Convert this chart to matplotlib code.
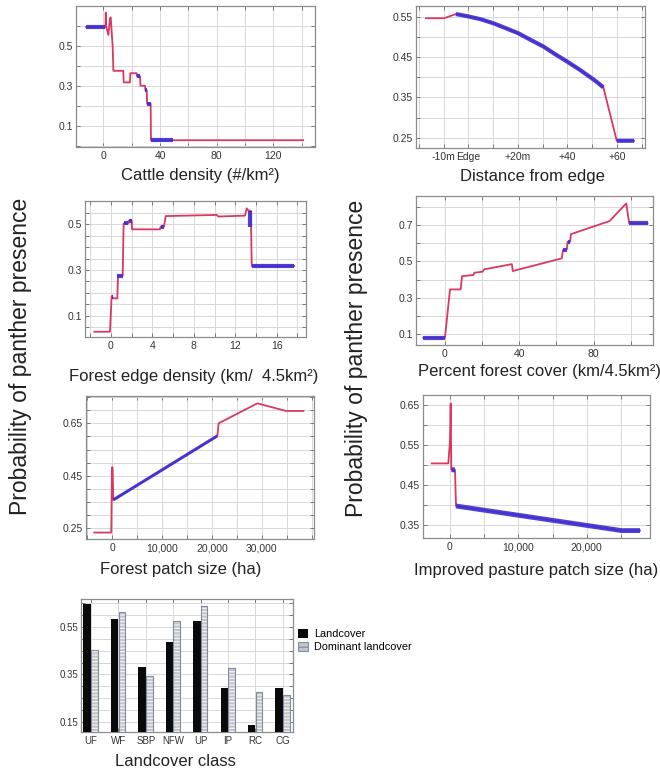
import numpy as np
import matplotlib
matplotlib.use('Agg')
import matplotlib.pyplot as plt
from matplotlib.ticker import FixedLocator, MultipleLocator, FixedFormatter, FormatStrFormatter, StrMethodFormatter
from matplotlib.patches import Patch

plt.rcParams['font.family'] = ['Liberation Sans', 'DejaVu Sans']
plt.rcParams['hatch.linewidth'] = 0.9

RED = '#dc3760'
BLUE = '#3a2ed6'
GRID = '#d8d8d8'
FRAME = '#8c8c8c'
nan = np.nan

# Cattle density response
cattle_x = [-12.2, 1.5, 1.7, 2.0, 3.5, 4.8, 5.2, 5.6, 6.6, 7.1, 14.1, 14.4, 18.8, 19.1, 23.5, 23.8,
            25.9, 26.2, 29.4, 29.7, 30.6, 30.9, 33.4, 33.6, 141.0]
cattle_y = [0.594, 0.594, 0.667, 0.600, 0.555, 0.640, 0.643, 0.600, 0.493, 0.375, 0.375, 0.317, 0.317,
            0.363, 0.363, 0.347, 0.347, 0.300, 0.300, 0.277, 0.277, 0.210, 0.210, 0.027, 0.027]
cattle_band_x = [-12.2, 1.5, nan, 24.0, 25.9, nan, 29.7, 30.6, nan, 30.9, 33.4, nan, 33.6, 49.4]
cattle_band_y = [0.594, 0.594, nan, 0.347, 0.347, nan, 0.277, 0.277, nan, 0.207, 0.207, nan, 0.027, 0.027]

# Distance from edge response
dist_x = [-17.1, -9.8, -5.0, 0, 5, 10.1, 15, 20.2, 25, 30.3, 35, 40, 45, 49.8, 52, 54.5, 59.9, 66.9]
dist_y = [0.5475, 0.5475, 0.558, 0.552, 0.545, 0.535, 0.523, 0.510, 0.494, 0.477, 0.458, 0.439,
          0.419, 0.398, 0.388, 0.375, 0.242, 0.242]
dist_band_x = [-5.0, 0, 5, 10.1, 15, 20.2, 25, 30.3, 35, 40, 45, 49.8, 52, 54.5, nan, 59.9, 66.9]
dist_band_y = [0.558, 0.552, 0.545, 0.535, 0.523, 0.510, 0.494, 0.477, 0.458, 0.439, 0.419, 0.398,
               0.388, 0.375, nan, 0.242, 0.242]
dist_ticks = [-10, 0, 20, 40, 60]
dist_labels = ['-10m', 'Edge', '+20m', '+40', '+60']

# Forest edge density response
edge_x = [-1.61, -0.1, 0.06, 0.23, 0.61, 0.68, 1.13, 1.22, 1.67, 1.71, 2.0, 2.03, 4.73, 4.8, 5.12,
          5.28, 10.2, 10.37, 12.94, 13.1, 13.26, 13.5, 13.59, 17.68]
edge_y = [0.030, 0.030, 0.186, 0.176, 0.176, 0.275, 0.275, 0.504, 0.504, 0.516, 0.516, 0.478, 0.478,
          0.490, 0.490, 0.536, 0.541, 0.534, 0.538, 0.570, 0.560, 0.560, 0.318, 0.318]
edge_band_x = [0.06, 0.23, nan, 0.61, 1.13, nan, 1.22, 1.67, nan, 1.71, 2.0, nan, 4.8, 5.12, nan,
               13.38, 13.38, nan, 13.59, 17.68]
edge_band_y = [0.180, 0.180, nan, 0.275, 0.275, nan, 0.504, 0.504, nan, 0.516, 0.516, nan, 0.490, 0.490,
               nan, 0.490, 0.560, nan, 0.318, 0.318]

# Percent forest cover response
cover_x = [-11.7, 0, 2.7, 8.45, 9.2, 15.3, 15.8, 20.3, 21.0, 36.0, 36.5, 62.9, 63.5, 65.6, 66.0, 67.4,
           67.8, 88.6, 97.6, 99.2, 109.1]
cover_y = [0.080, 0.080, 0.346, 0.346, 0.419, 0.425, 0.438, 0.443, 0.456, 0.485, 0.447, 0.517, 0.562,
           0.566, 0.608, 0.608, 0.650, 0.722, 0.819, 0.709, 0.709]
cover_band_x = [-11.7, 0, nan, 63.5, 65.6, nan, 66.0, 67.4, nan, 99.2, 109.1]
cover_band_y = [0.080, 0.080, nan, 0.564, 0.564, nan, 0.608, 0.608, nan, 0.709, 0.709]

# Forest patch size response
patch_x = [-3616, -200, -67, 67, 200, 21092, 21360, 29128, 34887, 38368]
patch_y = [0.2335, 0.2335, 0.482, 0.482, 0.358, 0.602, 0.650, 0.726, 0.697, 0.697]
patch_band_x = [200, 21092]
patch_band_y = [0.358, 0.602]

# Improved pasture patch size response
past_x = [-2683, -244, 0, 98, 195, 732, 878, 25122, 27805]
past_y = [0.504, 0.504, 0.5625, 0.654, 0.489, 0.4875, 0.3975, 0.336, 0.336]
past_band_x = [195, 732, nan, 878, 25122, 27805]
past_band_y = [0.488, 0.488, nan, 0.3975, 0.336, 0.336]

# Landcover classes
classes = ['UF', 'WF', 'SBP', 'NFW', 'UP', 'IP', 'RC', 'CG']
landcover = [0.649, 0.584, 0.383, 0.486, 0.577, 0.291, 0.136, 0.291]
dominant = [0.451, 0.616, 0.345, 0.574, 0.638, 0.376, 0.277, 0.263]


def style(ax, xlim, ylim, xmajor, xminor, ymajor, yminor):
    ax.set_xlim(xlim)
    ax.set_ylim(ylim)
    ax.xaxis.set_major_locator(FixedLocator(xmajor))
    if xminor:
        ax.xaxis.set_minor_locator(MultipleLocator(xminor))
    ax.yaxis.set_major_locator(FixedLocator(ymajor))
    ax.yaxis.set_minor_locator(MultipleLocator(yminor))
    ax.yaxis.set_major_formatter(FormatStrFormatter('%g'))
    ax.grid(True, which='both', color=GRID, lw=0.7)
    ax.set_axisbelow(True)
    ax.tick_params(which='both', direction='in', top=True, right=True, color='#777777',
                   length=3, width=0.7, labelsize=7.5, labelcolor='#333333')
    ax.tick_params(axis='y', pad=2)
    ax.tick_params(axis='x', pad=3)
    for s in ax.spines.values():
        s.set_color(FRAME)
        s.set_linewidth(0.9)


def draw_curve(ax, x, y, bx, by, blw=3.0):
    ax.plot(x, y, color=RED, lw=1.3, zorder=2)
    ax.plot(bx, by, color=BLUE, lw=blw, alpha=0.9, solid_capstyle='butt', zorder=3)


def put_xlabel(ax, text, xc, yc):
    ax.set_xlabel(text, fontsize=12, color='#222222')
    ax.xaxis.set_label_coords(xc, yc)
    ax.xaxis.label.set_va('center')


W, H = 660, 771
fig = plt.figure(figsize=(6.6, 7.71), dpi=100)


def box(x0, y0, x1, y1):
    return fig.add_axes([x0 / W, 1 - y1 / H, (x1 - x0) / W, (y1 - y0) / H])


# 1. Cattle density
ax1 = box(76, 6, 315, 147)
draw_curve(ax1, cattle_x, cattle_y, cattle_band_x, cattle_band_y)
style(ax1, (-19.3, 149.4), (-0.007, 0.70), [0, 40, 80, 120], 20, [0.1, 0.3, 0.5], 0.1)
put_xlabel(ax1, 'Cattle density (#/km²)', 0.519, -0.205)

# 2. Distance from edge
ax2 = box(416, 6, 645, 148)
draw_curve(ax2, dist_x, dist_y, dist_band_x, dist_band_y)
style(ax2, (-21.1, 71.3), (0.224, 0.578), dist_ticks, 10, [0.25, 0.35, 0.45, 0.55], 0.05)
ax2.xaxis.set_major_formatter(FixedFormatter(dist_labels))
put_xlabel(ax2, 'Distance from edge', 0.51, -0.20)

# 3. Forest edge density
ax3 = box(85, 201, 306, 337)
draw_curve(ax3, edge_x, edge_y, edge_band_x, edge_band_y)
style(ax3, (-2.51, 18.83), (0.007, 0.602), [0, 4, 8, 12, 16], 2, [0.1, 0.3, 0.5], 0.05)
put_xlabel(ax3, 'Forest edge density (km/  4.5km²)', 0.49, -0.29)

# 4. Percent forest cover
ax4 = box(416, 196, 653, 345)
draw_curve(ax4, cover_x, cover_y, cover_band_x, cover_band_y)
style(ax4, (-15.6, 112.0), (0.04, 0.86), [0, 40, 80], 20, [0.1, 0.3, 0.5, 0.7], 0.1)
put_xlabel(ax4, 'Percent forest cover (km/4.5km²)', 0.519, -0.175)

# 5. Forest patch size
ax5 = box(86, 396, 314, 539)
draw_curve(ax5, patch_x, patch_y, patch_band_x, patch_band_y, blw=2.2)
style(ax5, (-5281, 40502), (0.209, 0.754), [0, 10000, 20000, 30000], 5000, [0.25, 0.45, 0.65], 0.05)
ax5.xaxis.set_major_formatter(StrMethodFormatter('{x:,.0f}'))
put_xlabel(ax5, 'Forest patch size (ha)', 0.416, -0.215)

# 6. Improved pasture patch size
ax6 = box(422.7, 395, 650, 538)
draw_curve(ax6, past_x, past_y, past_band_x, past_band_y, blw=3.5)
style(ax6, (-3994, 29265), (0.3175, 0.675), [0, 10000, 20000], 5000, [0.35, 0.45, 0.55, 0.65], 0.05)
ax6.xaxis.set_major_formatter(StrMethodFormatter('{x:,.0f}'))
put_xlabel(ax6, 'Improved pasture patch size (ha)', 0.498, -0.224)

# 7. Landcover class bars
ax7 = box(80.7, 599, 293.3, 731.7)
xpos = np.arange(len(classes))
ax7.bar(xpos - 0.14, landcover, width=0.27, color='#0a0a0a', zorder=3)
ax7.bar(xpos + 0.125, dominant, width=0.24, color='#c4c4c4', edgecolor='#f2f2f2',
        hatch='-----', lw=0, zorder=3)
ax7.bar(xpos + 0.125, dominant, width=0.24, fill=False, edgecolor='#7c8ca6', lw=0.8, zorder=4)
style(ax7, (-0.376, 7.38), (0.107, 0.669), list(xpos), None, [0.15, 0.35, 0.55], 0.05)
ax7.xaxis.set_major_formatter(FixedFormatter(classes))
ax7.tick_params(labelsize=7)
put_xlabel(ax7, 'Landcover class', 0.447, -0.221)

handles = [Patch(facecolor='#0a0a0a'),
           Patch(facecolor='#c4c4c4', edgecolor='#8090a8', hatch='---', lw=0.8)]
fig.legend(handles, ['Landcover', 'Dominant landcover'], loc='upper left',
           bbox_to_anchor=(298 / W, 1 - 629 / H), frameon=False, fontsize=7.8,
           handlelength=0.9, handleheight=0.9, handletextpad=0.6, labelspacing=0.25,
           borderaxespad=0, borderpad=0)

# shared y labels
fig.text(21 / W, 1 - 356 / H, 'Probability of panther presence', rotation=90,
         ha='center', va='center', fontsize=16.5, color='#222222')
fig.text(357 / W, 1 - 358 / H, 'Probability of panther presence', rotation=90,
         ha='center', va='center', fontsize=16.5, color='#222222')

plt.savefig('out.png', dpi=100)
